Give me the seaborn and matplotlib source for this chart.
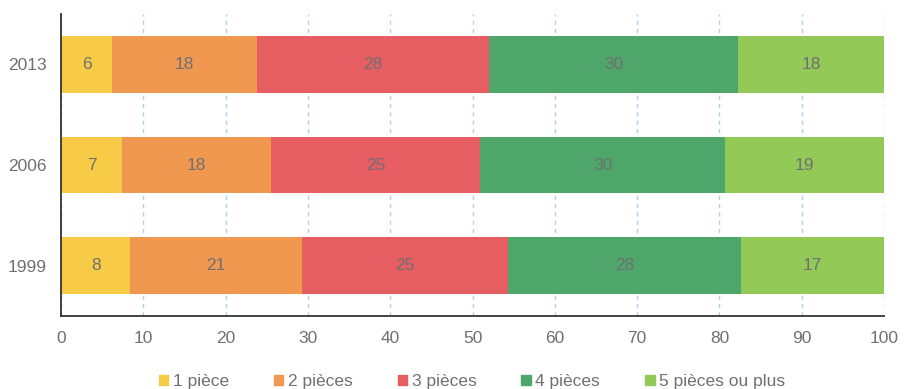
import matplotlib
matplotlib.use("Agg")
import matplotlib.pyplot as plt
import matplotlib.patches as mpatches
import seaborn as sns
import numpy as np
import pandas as pd

years = ["2013", "2006", "1999"]
rooms = ["1 pièce", "2 pièces", "3 pièces", "4 pièces", "5 pièces ou plus"]
# share of dwellings (%) by number of rooms, per year
one_room = [6.2, 7.4, 8.4]
two_rooms = [17.6, 18.1, 20.9]
three_rooms = [28.2, 25.4, 25.0]
four_rooms = [30.3, 29.8, 28.3]
five_plus = [17.7, 19.3, 17.4]

colors = ["#F7CB45", "#F09850", "#E65D62", "#4FA66A", "#92C957"]
txt_grey = "#707070"

sns.set_style("white")
plt.rcParams["font.family"] = ["Liberation Sans", "DejaVu Sans"]
plt.rcParams["font.size"] = 12.5

df = pd.DataFrame(
    np.array([one_room, two_rooms, three_rooms, four_rooms, five_plus]).T,
    columns=rooms, index=years,
)
cum = df.cumsum(axis=1)

fig = plt.figure(figsize=(9.07, 3.89), dpi=100)
ax = fig.add_axes([61 / 907, 1 - 316 / 389, 823 / 907, 302 / 389])

# stacked bars: draw cumulative totals from the widest down
for i in range(len(rooms) - 1, -1, -1):
    sns.barplot(x=cum[rooms[i]].values, y=years, orient="h", color=colors[i],
                width=0.56, saturation=1, linewidth=0, ax=ax, zorder=2)

# value labels at the middle of each segment
for j, yr in enumerate(years):
    for i, r in enumerate(rooms):
        v = df.loc[yr, r]
        ax.text(cum.loc[yr, r] - v / 2, j, f"{round(v)}", ha="center", va="center",
                color=txt_grey, fontsize=12.5, zorder=3)

ax.set_xlim(0, 100)
ax.set_ylim(2.5, -0.5)
ax.set_xticks(np.arange(0, 101, 10))
ax.xaxis.grid(True, color="#A8D4F0", linestyle=(0, (3, 3)), linewidth=1)
ax.yaxis.grid(False)
ax.set_axisbelow(True)

for s in ["top", "right"]:
    ax.spines[s].set_visible(False)
for s in ["left", "bottom"]:
    ax.spines[s].set_color("#333333")
    ax.spines[s].set_linewidth(1.3)

ax.tick_params(axis="x", colors="#333333", labelcolor=txt_grey, direction="out",
               length=5, width=1, labelsize=12.5, pad=6)
ax.tick_params(axis="y", which="major", length=0, labelcolor=txt_grey, labelsize=12.5, pad=10)
ax.set_yticks([-0.5, 0.5, 1.5, 2.5], minor=True)
ax.tick_params(axis="y", which="minor", length=5, width=1, color="#333333", direction="out")
ax.set_xlabel("")
ax.set_ylabel("")

handles = [mpatches.Patch(color=c, label=r) for c, r in zip(colors, rooms)]
fig.legend(handles=handles, loc="upper center", bbox_to_anchor=(472 / 907, 0.07),
           ncol=5, frameon=False, handlelength=0.55, handleheight=0.55,
           handletextpad=0.25, columnspacing=2.6, fontsize=12.5, labelcolor=txt_grey,
           borderpad=0.2)

fig.savefig("out.png", dpi=100)
